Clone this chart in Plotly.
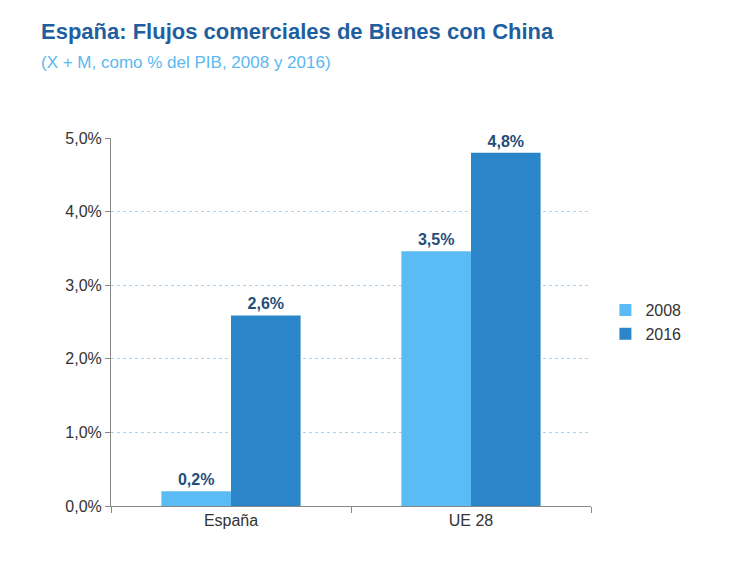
import plotly.graph_objects as go

categories = ["España", "UE 28"]
years = ["2008", "2016"]
values_2008 = [0.2, 3.46]
values_2016 = [2.59, 4.8]
colors = {"2008": "#5BBCF5", "2016": "#2A86C8"}

fig = go.Figure()
for year, vals in zip(years, [values_2008, values_2016]):
    fig.add_trace(go.Bar(
        x=categories, y=vals, name=year, marker_color=colors[year],
        marker_line_width=0,
        texttemplate="<b>%{y:.1f}%</b>", textposition="outside",
        textfont=dict(size=16, color="#1F4E79"), cliponaxis=False,
    ))

fig.update_layout(
    width=733, height=568, barmode="group", bargap=0.42, bargroupgap=0,
    plot_bgcolor="white", paper_bgcolor="white", separators=", ",
    font=dict(family="Liberation Sans, Arial", size=16, color="#333333"),
    margin=dict(l=103, r=150, t=130, b=70),
    title=dict(
        text="<b>España: Flujos comerciales de Bienes con China</b><br>"
             "<span style='font-size:17px;color:#5BB8F0'>(X + M, como % del PIB, 2008 y 2016)</span>",
        x=0.045, xanchor="left", y=0.945, yanchor="top",
        font=dict(size=22, color="#1F5F9F"),
    ),
    legend=dict(x=1.03, y=0.5, yanchor="middle", font=dict(size=16),
                tracegroupgap=8),
    yaxis=dict(range=[0, 5], dtick=1, tickformat=".1f", ticksuffix="%",
               showgrid=True, gridcolor="#A9D3EA", griddash="dot",
               showline=True, linecolor="#888888", ticks="outside", ticklen=5,
               tickcolor="#888888"),
    xaxis=dict(showline=True, linecolor="#888888", ticks="outside",
               tickcolor="#888888", ticklen=6, tickson="boundaries"),
)

fig.write_html("out.html")
